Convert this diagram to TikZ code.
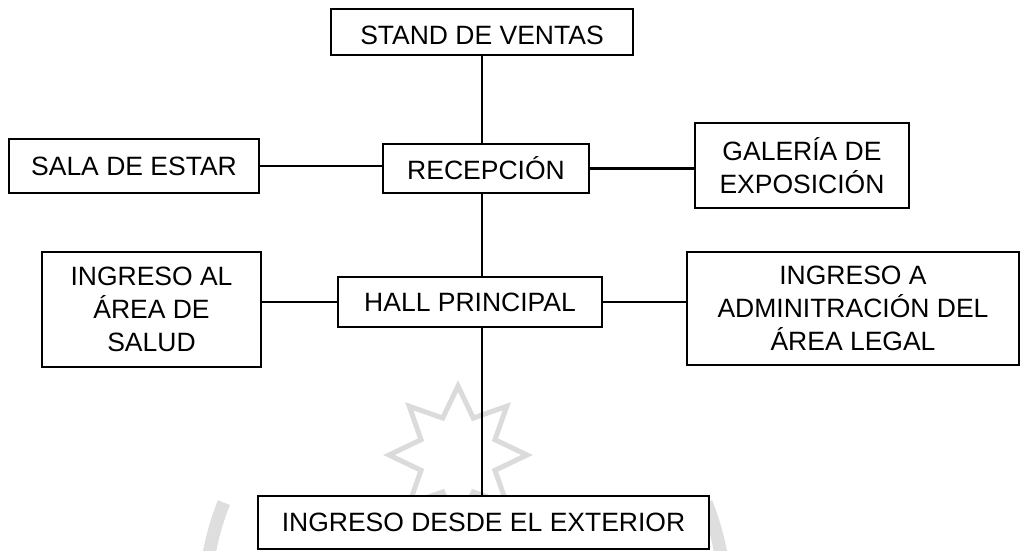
\documentclass[tikz,border=0pt]{standalone}
\usepackage{fontspec}
\setmainfont{Liberation Sans}
\begin{document}
\begin{tikzpicture}[x=1pt,y=-1pt,
  box/.style={draw=black,line width=1.3pt,fill=white,rectangle,inner sep=0pt,align=center,
    font=\fontsize{26.5}{33}\selectfont},
  link/.style={line width=2.6pt,black},
  wmark/.style={draw=black!14,line width=5pt,line join=miter}]
\useasboundingbox (0,0) rectangle (1021,550);
% faint watermark
\begin{scope}
\clip (0,0) rectangle (1021,550);
\draw[wmark,shift={(458,455)}]
  (90:-69) -- (112.5:-40) -- (135:-69) -- (157.5:-40) -- (180:-69) -- (202.5:-40) -- (225:-69) -- (247.5:-40)
  -- (270:-69) -- (292.5:-40) -- (315:-69) -- (337.5:-40) -- (0:-69) -- (22.5:-40) -- (45:-69) -- (67.5:-40) -- cycle;
\draw[draw=black!13,line width=13pt] (465,600) ++(-158:260) arc[start angle=-158,end angle=-178,radius=260];
\draw[draw=black!13,line width=13pt] (465,600) ++(-4:260) arc[start angle=-4,end angle=-22,radius=260];
\end{scope}
% boxes
\node[box,minimum width=302pt,minimum height=46pt,text height=26pt] (stand) at (482,32) {STAND DE VENTAS};
\node[box,minimum width=250pt,minimum height=54pt] (sala) at (134,166) {SALA DE ESTAR};
\node[box,minimum width=206pt,minimum height=49pt] (recep) at (486,168.5) {RECEPCIÓN};
\node[box,minimum width=214pt,minimum height=85pt] (gal) at (802,165.5) {GALERÍA DE\\EXPOSICIÓN};
\node[box,minimum width=219pt,minimum height=115pt] (salud) at (151.5,309.5) {INGRESO AL\\ÁREA DE\\SALUD};
\node[box,minimum width=264pt,minimum height=50pt] (hall) at (470,302) {HALL PRINCIPAL};
\node[box,minimum width=332pt,minimum height=113pt] (legal) at (853,308.5) {INGRESO A\\ADMINITRACIÓN DEL\\ÁREA LEGAL};
\node[box,minimum width=451pt,minimum height=53pt] (ext) at (483.5,522.5) {INGRESO DESDE EL EXTERIOR};
% connectors
\draw[link] (stand.south) -- (stand.south |- recep.north);
\draw[link] (stand.south |- recep.south) -- (stand.south |- hall.north);
\draw[link] (stand.south |- hall.south) -- (stand.south |- ext.north);
\draw[link] (sala.east) -- (sala.east -| recep.west);
\draw[link] (recep.east) -- (recep.east -| gal.west);
\draw[link] (hall.west) -- (hall.west -| salud.east);
\draw[link] (hall.east) -- (hall.east -| legal.west);
\end{tikzpicture}
\end{document}
